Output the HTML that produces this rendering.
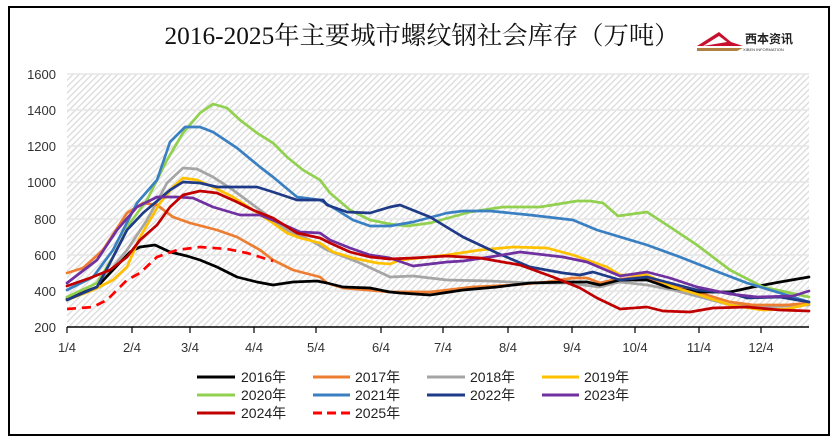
<!DOCTYPE html>
<html><head><meta charset="utf-8"><style>
body{margin:0;background:#fff;width:838px;height:442px;overflow:hidden}
svg{display:block}
text{font-family:"Liberation Sans","Noto Sans CJK SC",sans-serif}
</style></head><body>
<svg width="838" height="442" viewBox="0 0 838 442" xmlns="http://www.w3.org/2000/svg">
<defs>
<pattern id="h" width="4.5" height="4.5" patternUnits="userSpaceOnUse" patternTransform="rotate(45)">
<rect width="4.5" height="4.5" fill="#fff"/><rect x="0" width="1.4" height="4.5" fill="#dddddd"/>
</pattern>
</defs>
<rect width="838" height="442" fill="#fff"/>
<rect x="9" y="7" width="820" height="428" fill="#fff" stroke="#000" stroke-width="2"/>
<text x="422" y="44" text-anchor="middle" font-size="25" textLength="515" lengthAdjust="spacingAndGlyphs" style="font-family:'Liberation Serif','Noto Serif CJK SC',serif" fill="#111">2016-2025年主要城市螺纹钢社会库存（万吨）</text>
<g transform="translate(697,28)">
<polygon points="0,18 22,4 34,14 46,18" fill="#c8102e"/>
<polygon points="6,18 22,8 30,14" fill="#fff"/>
<polygon points="0,20 46,20 40,23 0,23" fill="#b08040"/>
<text x="48" y="15" font-size="12" font-weight="bold" fill="#222" style="font-family:'Noto Sans CJK SC',sans-serif">西本资讯</text>
<text x="46" y="23" font-size="4" fill="#333">XIBEN INFORMATION</text>
</g>
<rect x="67" y="74" width="742" height="253" fill="url(#h)"/>
<g stroke="#e6e6e6" stroke-width="1.5">
<line x1="67" y1="74" x2="809" y2="74"/><line x1="67" y1="110" x2="809" y2="110"/><line x1="67" y1="146" x2="809" y2="146"/><line x1="67" y1="182" x2="809" y2="182"/><line x1="67" y1="219" x2="809" y2="219"/><line x1="67" y1="255" x2="809" y2="255"/><line x1="67" y1="291" x2="809" y2="291"/>
</g>
<g font-size="13" fill="#333" text-anchor="end">
<text x="56" y="79">1600</text><text x="56" y="115">1400</text><text x="56" y="151">1200</text><text x="56" y="187">1000</text><text x="56" y="224">800</text><text x="56" y="260">600</text><text x="56" y="296">400</text><text x="56" y="332">200</text>
</g>
<line x1="67" y1="327" x2="809" y2="327" stroke="#000" stroke-width="1.5"/>
<g stroke="#000" stroke-width="1.2">
<line x1="67" y1="327" x2="67" y2="333"/><line x1="132" y1="327" x2="132" y2="333"/><line x1="190" y1="327" x2="190" y2="333"/><line x1="254" y1="327" x2="254" y2="333"/><line x1="316" y1="327" x2="316" y2="333"/><line x1="381" y1="327" x2="381" y2="333"/><line x1="443" y1="327" x2="443" y2="333"/><line x1="508" y1="327" x2="508" y2="333"/><line x1="572" y1="327" x2="572" y2="333"/><line x1="635" y1="327" x2="635" y2="333"/><line x1="699" y1="327" x2="699" y2="333"/><line x1="761" y1="327" x2="761" y2="333"/>
</g>
<g font-size="13" fill="#333" text-anchor="middle">
<text x="67" y="352">1/4</text><text x="132" y="352">2/4</text><text x="190" y="352">3/4</text><text x="254" y="352">4/4</text><text x="316" y="352">5/4</text><text x="381" y="352">6/4</text><text x="443" y="352">7/4</text><text x="508" y="352">8/4</text><text x="572" y="352">9/4</text><text x="635" y="352">10/4</text><text x="699" y="352">11/4</text><text x="761" y="352">12/4</text>
</g>
<g fill="none" stroke-width="2.7" stroke-linejoin="round" stroke-linecap="round">
<polyline stroke="#A5A5A5" points="67,297 97,287 127,250 147,220 167,183 183,168 197,169 213,177 233,190 260,210 287,230 310,240 327,250 360,263 390,277 413,276 447,280 490,281 530,283 567,283 600,287 620,282 647,285 673,290 700,297 730,305 763,307 809,305"/>
<polyline stroke="#ED7D31" points="67,273 83,268 103,250 127,213 143,203 157,205 173,217 190,223 217,230 237,237 260,250 273,260 293,270 320,277 327,283 343,288 390,292 430,292 473,287 513,285 547,282 573,278 587,278 600,283 613,280 640,277 663,283 697,292 730,302 753,305 787,305 809,303"/>
<polyline stroke="#000" points="67,299 97,287 113,270 130,252 140,247 155,245 170,252 187,256 200,260 217,267 237,277 257,282 273,285 293,282 317,281 327,283 343,287 370,288 390,292 400,293 430,295 463,290 497,287 530,283 567,282 587,282 600,285 620,280 647,280 667,287 697,292 730,292 753,287 780,282 809,277"/>
<polyline stroke="#FFC000" points="67,300 93,290 113,280 127,267 140,237 160,203 173,187 183,178 197,180 213,187 233,197 253,210 273,223 287,233 300,238 320,243 333,252 353,258 377,263 390,264 400,260 447,255 480,250 513,247 547,248 573,255 607,267 620,275 647,275 673,287 700,295 730,305 763,310 787,309 809,304"/>
<polyline stroke="#92D050" points="67,297 97,283 113,257 130,223 147,200 167,160 183,133 200,113 213,104 227,108 240,120 257,133 273,143 287,157 303,170 320,180 330,193 350,210 370,220 390,224 407,226 430,223 470,212 503,207 540,207 577,201 590,201 603,203 618,216 647,212 670,227 697,245 730,270 763,287 809,297"/>
<polyline stroke="#3A7FC1" points="67,290 93,277 113,250 137,203 157,180 170,142 185,127 200,127 213,132 237,148 260,167 273,177 297,197 320,200 337,210 353,220 370,226 390,226 413,222 447,213 463,211 490,211 530,215 573,220 597,230 647,245 680,257 713,270 747,283 780,293 809,302"/>
<polyline stroke="#1F3A86" points="67,300 97,287 110,263 127,230 143,213 170,190 183,182 200,183 217,187 240,187 257,187 273,192 297,200 323,200 327,205 347,212 370,213 390,207 400,205 430,217 463,237 497,253 530,267 563,273 580,275 593,272 620,280 647,277 670,283 697,290 730,293 747,298 780,297 809,302"/>
<polyline stroke="#7030A0" points="67,283 97,260 117,230 137,207 157,197 177,197 193,198 213,207 240,215 260,215 280,223 300,232 320,233 330,240 350,248 370,255 390,258 413,266 447,262 463,261 490,257 520,252 563,257 587,262 620,276 647,272 670,278 697,287 730,294 757,297 793,296 809,291"/>
<polyline stroke="#C00000" points="67,286 90,278 110,270 127,257 140,240 157,225 170,207 183,195 200,191 217,193 237,202 253,210 273,218 297,233 320,238 330,243 350,252 370,257 390,259 413,258 447,256 480,258 520,265 553,277 580,288 597,298 620,309 647,307 663,311 690,312 713,308 747,307 780,310 809,311"/>
<polyline stroke="#FF0000" stroke-dasharray="9,6" stroke-linecap="butt" points="67,309 93,307 107,300 127,280 140,273 157,257 177,250 200,247 227,249 247,253 260,257 273,261"/>
</g>
<g font-size="14" fill="#222" stroke-width="3">
<line x1="197" y1="377" x2="235" y2="377" stroke="#000"/><text x="241" y="382">2016年</text>
<line x1="313" y1="377" x2="350" y2="377" stroke="#ED7D31"/><text x="355" y="382">2017年</text>
<line x1="427" y1="377" x2="465" y2="377" stroke="#A5A5A5"/><text x="470" y="382">2018年</text>
<line x1="542" y1="377" x2="579" y2="377" stroke="#FFC000"/><text x="584" y="382">2019年</text>
<line x1="197" y1="395" x2="235" y2="395" stroke="#92D050"/><text x="241" y="400">2020年</text>
<line x1="313" y1="395" x2="350" y2="395" stroke="#3A7FC1"/><text x="355" y="400">2021年</text>
<line x1="427" y1="395" x2="465" y2="395" stroke="#1F3A86"/><text x="470" y="400">2022年</text>
<line x1="542" y1="395" x2="579" y2="395" stroke="#7030A0"/><text x="584" y="400">2023年</text>
<line x1="197" y1="413" x2="235" y2="413" stroke="#C00000"/><text x="241" y="418">2024年</text>
<line x1="313" y1="413" x2="350" y2="413" stroke="#FF0000" stroke-dasharray="9,5"/><text x="355" y="418">2025年</text>
</g>
</svg>
</body></html>
